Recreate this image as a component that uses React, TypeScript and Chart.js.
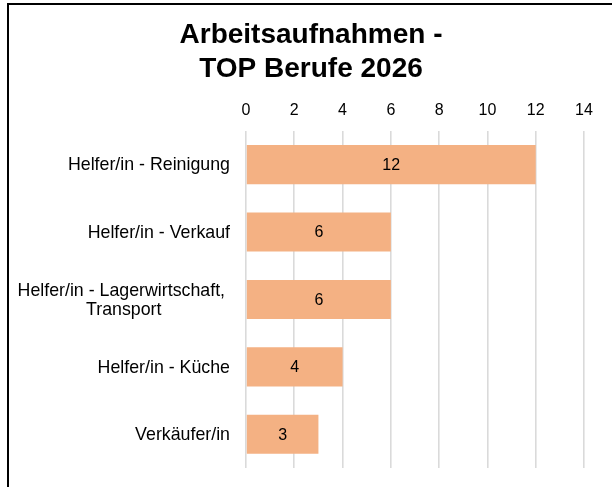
import React, { useEffect, useRef } from "react";
import { Chart, registerables } from "chart.js";

Chart.register(...registerables);

const titleLines = ["Arbeitsaufnahmen -", "TOP Berufe 2026"];
const categories: (string | string[])[] = [
  "Helfer/in - Reinigung",
  "Helfer/in - Verkauf",
  ["Helfer/in - Lagerwirtschaft, ", "Transport"],
  "Helfer/in - Küche",
  "Verkäufer/in",
];
const values = [12, 6, 6, 4, 3];
const axisMin = 0;
const axisMax = 14;
const axisStep = 2;

const FONT = '"Liberation Sans", Arial, Helvetica, sans-serif';
const BAR_COLOR = "#F4B183";

const yLabelPlugin = {
  id: "yLabels",
  afterDraw(chart: any) {
    const ctx = chart.ctx;
    const yScale = chart.scales.y;
    ctx.save();
    ctx.font = `17.8px ${FONT}`;
    ctx.fillStyle = "#000";
    ctx.textAlign = "center";
    ctx.textBaseline = "middle";
    const right = chart.chartArea.left - 16;
    categories.forEach((lab, i) => {
      const lines = Array.isArray(lab) ? lab : [lab];
      const w = Math.max(...lines.map((l) => ctx.measureText(l).width));
      const cx = right - w / 2;
      const py = yScale.getPixelForValue(i);
      const n = lines.length;
      lines.forEach((l, j) => {
        ctx.fillText(l, cx, py + 1 + (j - (n - 1) / 2) * 19);
      });
    });
    ctx.restore();
  },
};

const dataLabelPlugin = {
  id: "dataLabels",
  afterDatasetsDraw(chart: any) {
    const ctx = chart.ctx;
    const meta = chart.getDatasetMeta(0);
    ctx.save();
    ctx.font = `16px ${FONT}`;
    ctx.fillStyle = "#000";
    ctx.textAlign = "center";
    ctx.textBaseline = "middle";
    meta.data.forEach((bar: any, i: number) => {
      const { x, y, base } = bar.getProps(["x", "y", "base"], true);
      ctx.fillText(String(values[i]), (x + base) / 2, y + 1);
    });
    ctx.restore();
  },
};

export default function App() {
  const canvasRef = useRef<HTMLCanvasElement | null>(null);

  useEffect(() => {
    document.body.style.margin = "0";
    document.body.style.overflow = "hidden";
    const canvas = canvasRef.current;
    if (!canvas) return;
    const chart = new Chart(canvas, {
      type: "bar",
      data: {
        labels: categories.map((c) => (Array.isArray(c) ? c.join(" ") : c)),
        datasets: [
          {
            data: values,
            backgroundColor: BAR_COLOR,
            borderWidth: 0,
            barPercentage: 0.58,
            categoryPercentage: 1,
          },
        ],
      },
      options: {
        indexAxis: "y",
        animation: false,
        responsive: false,
        maintainAspectRatio: false,
        devicePixelRatio: 1,
        layout: { padding: { left: 10, right: 0, top: 0, bottom: 19 } },
        plugins: {
          legend: { display: false },
          tooltip: { enabled: false },
          title: {
            display: true,
            text: titleLines,
            color: "#000",
            font: { family: FONT, size: 28, weight: "bold", lineHeight: 1.23 },
            padding: { top: 18.1, bottom: 0 },
          },
        },
        scales: {
          x: {
            type: "linear",
            position: "top",
            min: axisMin,
            max: axisMax,
            ticks: {
              stepSize: axisStep,
              color: "#000",
              font: { family: FONT, size: 16 },
              padding: 11,
            },
            grid: { color: "#dadada", lineWidth: 1.6, drawTicks: false },
            border: { display: false },
            afterFit: (s: any) => {
              s.height = 43.9;
            },
          },
          y: {
            type: "category",
            position: "left",
            ticks: { display: false },
            grid: { display: false, drawTicks: false },
            border: { display: false },
            afterFit: (s: any) => {
              s.width = 236;
            },
          },
          yRight: {
            type: "category",
            axis: "y",
            position: "right",
            display: true,
            ticks: { display: false },
            grid: { display: false, drawTicks: false },
            border: { display: false },
            afterFit: (s: any) => {
              s.width = 28;
            },
          },
        },
      } as any,
      plugins: [yLabelPlugin, dataLabelPlugin],
    });
    return () => chart.destroy();
  }, []);

  return (
    <div>
      <div
        style={{
          position: "fixed",
          left: 0,
          top: 0,
          width: 612,
          height: 487,
          background: "#fff",
        }}
      >
        <canvas ref={canvasRef} width={612} height={487} style={{ width: 612, height: 487, display: "block" }} />
      </div>
      <div
        style={{
          position: "fixed",
          left: 7,
          top: 3,
          width: 700,
          height: 600,
          borderLeft: "2px solid #000",
          borderTop: "2px solid #000",
          pointerEvents: "none",
        }}
      />
    </div>
  );
}
